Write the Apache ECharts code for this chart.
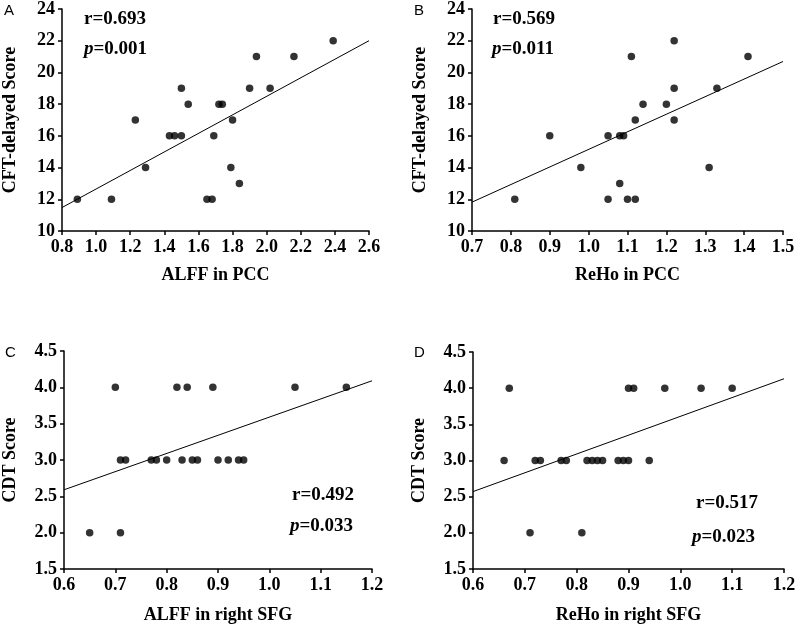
<!DOCTYPE html>
<html>
<head>
<meta charset="utf-8">
<script src="https://cdn.jsdelivr.net/npm/echarts@6/dist/echarts.min.js"></script>
<style>html,body{margin:0;padding:0;background:#fff}#c{width:800px;height:625px}</style>
</head>
<body>
<div id="c"></div>
<script>
// Panel A: ALFF in PCC vs CFT-delayed Score
var aX = [0.89,1.09,1.23,1.29,1.43,1.46,1.50,1.50,1.54,1.65,1.68,1.69,1.72,1.74,1.79,1.80,1.84,1.90,1.94,2.02,2.16,2.39];
var aY = [12,12,17,14,16,16,19,16,18,12,12,16,18,18,14,17,13,19,21,19,21,22];
var aFit = [[0.8,11.48],[2.6,22.0]];
// Panel B: ReHo in PCC vs CFT-delayed Score
var bX = [0.81,0.90,0.98,1.05,1.05,1.08,1.08,1.09,1.10,1.11,1.12,1.12,1.14,1.20,1.22,1.22,1.22,1.31,1.33,1.41];
var bY = [12,16,14,16,12,13,16,16,12,21,17,12,18,18,22,19,17,14,19,21];
var bFit = [[0.7,11.82],[1.5,20.69]];
// Panel C: ALFF in right SFG vs CDT Score
var cX = [0.65,0.70,0.71,0.71,0.72,0.77,0.78,0.80,0.82,0.83,0.84,0.85,0.86,0.89,0.90,0.92,0.94,0.95,1.05,1.15];
var cY = [2,4,2,3,3,3,3,3,4,3,4,3,3,4,3,3,3,3,4,4];
var cFit = [[0.6,2.59],[1.2,4.09]];
// Panel D: ReHo in right SFG vs CDT Score
var dX = [0.66,0.67,0.71,0.72,0.73,0.77,0.78,0.81,0.82,0.83,0.84,0.85,0.88,0.89,0.90,0.90,0.91,0.94,0.97,1.04,1.10];
var dY = [3,4,2,3,3,3,3,2,3,3,3,3,3,3,3,4,4,3,4,4,4];
var dFit = [[0.6,2.57],[1.2,4.13]];

var xNames = ['ALFF in PCC','ReHo in PCC','ALFF in right SFG','ReHo in right SFG'];
var yNames = ['CFT-delayed Score','CFT-delayed Score','CDT Score','CDT Score'];
var xRanges = [[0.8,2.6,0.2],[0.7,1.5,0.1],[0.6,1.2,0.1],[0.6,1.2,0.1]];
var yRanges = [[10,24,2],[10,24,2],[1.5,4.5,0.5],[1.5,4.5,0.5]];
var panelLetters = ['A','B','C','D'];
var rTexts = ['r=0.693','r=0.569','r=0.492','r=0.517'];
var pTexts = ['0.001','0.011','0.033','0.023'];

var pts = [[aX,aY],[bX,bY],[cX,cY],[dX,dY]];
var fits = [aFit,bFit,cFit,dFit];

var FONT = '"Liberation Serif","Times New Roman",serif';
var grids = [
  {left:58, top:7, width:311, height:224},
  {left:472, top:7, width:311, height:224},
  {left:61, top:351, width:311, height:224},
  {left:473, top:352, width:311, height:224}
];

function axisCommon(){
  return {
    axisLine:{show:true,onZero:false,lineStyle:{color:'#000',width:1.5}},
    axisTick:{show:true,inside:false,length:4,lineStyle:{color:'#000',width:1.5}},
    splitLine:{show:false},
    nameTextStyle:{fontFamily:FONT,fontWeight:'bold',fontSize:18,color:'#000'}
  };
}

var xAxes=[], yAxes=[], series=[];
for (var i=0;i<4;i++){
  var xa = axisCommon();
  xa.type='value'; xa.gridIndex=i;
  xa.min=xRanges[i][0]; xa.max=xRanges[i][1]; xa.interval=xRanges[i][2];
  xa.name=xNames[i]; xa.nameLocation='middle'; xa.nameGap=(i<2?35:37);
  xa.axisLabel={fontFamily:FONT,fontWeight:'bold',fontSize:18,color:'#000',margin:7,
    formatter:function(v){return v.toFixed(1);}};
  xAxes.push(xa);
  var ya = axisCommon();
  ya.type='value'; ya.gridIndex=i;
  ya.min=yRanges[i][0]; ya.max=yRanges[i][1]; ya.interval=yRanges[i][2];
  ya.name=yNames[i]; ya.nameLocation='middle'; ya.nameGap= (i<2?43:45);
  var dec = (i<2)?0:1;
  ya.axisLabel={fontFamily:FONT,fontWeight:'bold',fontSize:18,color:'#000',margin:7,
    formatter:(function(d){return function(v){return v.toFixed(d);};})(dec)};
  yAxes.push(ya);
  var data = pts[i][0].map(function(x,k){return [x, pts[i][1][k]];});
  series.push({type:'scatter',xAxisIndex:i,yAxisIndex:i,data:data,symbol:'circle',symbolSize:7.5,
    itemStyle:{color:'#000'},silent:true});
  series.push({type:'line',xAxisIndex:i,yAxisIndex:i,data:fits[i],symbol:'none',
    lineStyle:{color:'#000',width:1},silent:true,clip:false});
}

var textPos = [
  {r:[84,19], p:[84,49]},
  {r:[493,19], p:[492,49]},
  {r:[292,495], p:[290,526]},
  {r:[696,503], p:[692,537]}
];
var letterPos = [[4,11],[414,11],[5,353],[414,353]];

var graphics = [];
for (var j=0;j<4;j++){
  graphics.push({type:'text',x:letterPos[j][0],y:letterPos[j][1],
    style:{text:panelLetters[j],font:'15px "Liberation Sans",Arial,sans-serif',fill:'#000',verticalAlign:'middle'}});
  graphics.push({type:'text',x:textPos[j].r[0],y:textPos[j].r[1],
    style:{text:rTexts[j],font:'bold 19px '+FONT,fill:'#000',verticalAlign:'middle',align:'left'}});
  graphics.push({type:'text',x:textPos[j].p[0],y:textPos[j].p[1],
    style:{text:'{i|p}{b|='+pTexts[j]+'}',font:'bold 19px '+FONT,fill:'#000',verticalAlign:'middle',align:'left',
      rich:{i:{fontStyle:'italic',fontWeight:'bold',fontSize:19,fontFamily:FONT,fill:'#000',color:'#000'},
            b:{fontWeight:'bold',fontSize:19,fontFamily:FONT,fill:'#000',color:'#000'}}}});
}

var chart = echarts.init(document.getElementById('c'),null,{renderer:'canvas'});
chart.setOption({
  animation:false,
  backgroundColor:'#fff',
  grid:grids,
  xAxis:xAxes,
  yAxis:yAxes,
  series:series,
  graphic:graphics
});
</script>
</body>
</html>
